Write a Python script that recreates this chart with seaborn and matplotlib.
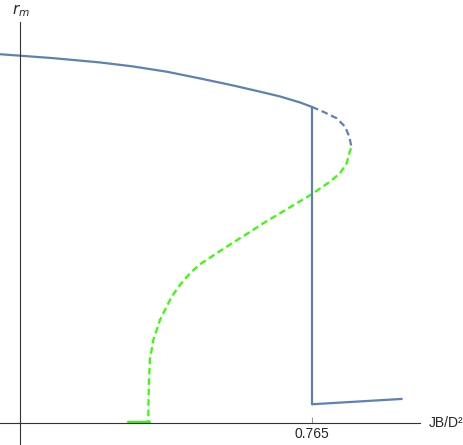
import numpy as np
import pandas as pd
import seaborn as sns
import matplotlib
matplotlib.use("Agg")
from matplotlib import pyplot as plt

# upper stable branch (solid blue)
upper_x = [-0.0524, 0.0026, 0.0865, 0.2096, 0.2960, 0.3851, 0.4716, 0.5580, 0.6288, 0.6812, 0.7336, 0.765]
upper_r = [0.9703, 0.9663, 0.9600, 0.9487, 0.9382, 0.9242, 0.9066, 0.8882, 0.8718, 0.8592, 0.8434, 0.8316]

# upper unstable part (dashed blue) up to the fold
fold_x = [0.765, 0.7938, 0.8297, 0.8515, 0.8627, 0.8672, 0.8672]
fold_r = [0.8316, 0.8192, 0.8018, 0.7797, 0.7534, 0.7316, 0.7229]

# middle unstable branch (dashed green)
mid_x = [0.8672, 0.8627, 0.8559, 0.8384, 0.8122, 0.7642, 0.7249, 0.6812, 0.6374,
         0.5973, 0.5588, 0.5153, 0.4716, 0.4454, 0.4192, 0.3974, 0.3799, 0.3668,
         0.3581, 0.3492, 0.3450, 0.3406, 0.3380, 0.3367, 0.3361]
mid_r = [0.7229, 0.7097, 0.6834, 0.6571, 0.6350, 0.6018, 0.5782, 0.5518, 0.5255,
         0.4992, 0.4750, 0.4466, 0.4176, 0.3939, 0.3632, 0.3324, 0.2974, 0.2711,
         0.2447, 0.2184, 0.1921, 0.1703, 0.1132, 0.0605, 0.0026]

# lower stable branch (solid green)
low_x = [0.284, 0.340]
low_r = [0.0020, 0.0020]

# jump and lower blue branch
jump_x = [0.765, 0.765, 1.000]
jump_r = [0.8316, 0.0492, 0.0632]

blue = "#5E81B5"
green = "#33ff00"

sns.set_style("white")
plt.rcParams['font.family'] = ['Liberation Sans', 'DejaVu Sans']

fig = plt.figure(figsize=(4.63, 4.45), dpi=100)
ax = fig.add_axes([0, 0, 1, 1])

lw = 1.6
dash = (3.0, 1.7)
sns.lineplot(x=upper_x, y=upper_r, sort=False, estimator=None, color=blue, lw=lw, ax=ax)
sns.lineplot(x=fold_x, y=fold_r, sort=False, estimator=None, color=blue, lw=lw, ax=ax)
ax.lines[-1].set_dashes(dash)
sns.lineplot(x=mid_x, y=mid_r, sort=False, estimator=None, color=green, lw=lw, ax=ax)
ax.lines[-1].set_dashes(dash)
sns.lineplot(x=low_x, y=low_r, sort=False, estimator=None, color=green, lw=lw, ax=ax)
sns.lineplot(x=jump_x, y=jump_r, sort=False, estimator=None, color=blue, lw=lw, ax=ax)

ax.set_xlim(-0.0524, 1.1606)
ax.set_ylim(-0.058, 1.113)

for s in ["top", "right"]:
    ax.spines[s].set_visible(False)
ax.spines["left"].set_position(("data", 0))
ax.spines["bottom"].set_position(("data", 0))
ax.spines["left"].set_bounds(-0.058, 1.055)
ax.spines["bottom"].set_bounds(-0.0524, 1.048)
for s in ["left", "bottom"]:
    ax.spines[s].set_color("#333333")
    ax.spines[s].set_linewidth(0.8)

ax.set_xticks([0.765])
ax.set_xticklabels(["0.765"])
ax.set_yticks([])
ax.tick_params(axis="x", direction="in", length=4, width=0.8, color="#999999",
               labelsize=10, pad=3, bottom=True)
ax.set_xlabel("")
ax.set_ylabel("")

ax.text(1.071, 0.0, "JB/D²", fontsize=10, ha="left", va="center", transform=ax.transData)
ax.text(0.003, 1.085, r"$r_m$", fontsize=11, ha="center", va="center", transform=ax.transData)

fig.savefig("out.png", dpi=100)
